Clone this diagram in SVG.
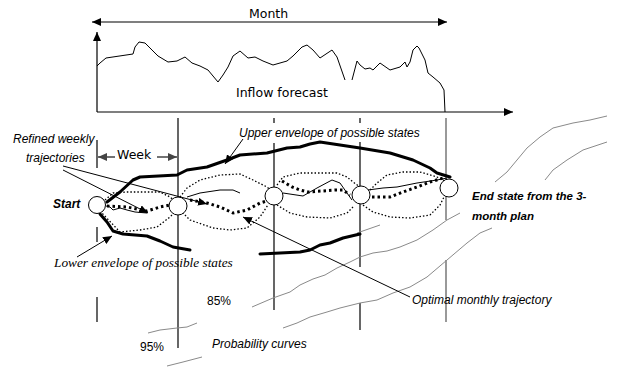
<svg xmlns="http://www.w3.org/2000/svg" width="617" height="371" viewBox="0 0 617 371">
<defs>
<marker id="ah" markerWidth="9" markerHeight="8" refX="9" refY="4" orient="auto-start-reverse" markerUnits="userSpaceOnUse">
<path d="M0,0 L9,4 L0,8 z" fill="#000"/>
</marker>
<marker id="ahg" markerWidth="9" markerHeight="8" refX="9" refY="4" orient="auto-start-reverse" markerUnits="userSpaceOnUse">
<path d="M0,0 L9,4 L0,8 z" fill="#444"/>
</marker>
</defs>
<style>
.ax{stroke:#000;stroke-width:1.2;fill:none}
.thin{stroke:#000;stroke-width:1;fill:none;stroke-linejoin:round}
.env{stroke:#000;stroke-width:3;fill:none;stroke-linejoin:round;stroke-linecap:round}
.dot{stroke:#000;stroke-width:1.3;fill:none;stroke-dasharray:1.5 2}
.opt{stroke:#000;stroke-width:3;fill:none;stroke-dasharray:2.5 3}
.prob{stroke:#8a8a8a;stroke-width:1;fill:none;stroke-linejoin:round}
.vl{stroke:#000;stroke-width:1.2}
.node{fill:#fff;stroke:#000;stroke-width:1}
.up{font-family:"DejaVu Sans",sans-serif;font-size:12.5px;fill:#000}
.it{font-family:"Liberation Sans",Arial,sans-serif;font-style:italic;font-size:12px;fill:#000}
.its{font-family:"Liberation Serif","Times New Roman",serif;font-style:italic;font-size:13.3px;fill:#000}
.bi{font-family:"Liberation Sans",Arial,sans-serif;font-style:italic;font-weight:bold;fill:#000}
.pc{font-family:"Liberation Sans",Arial,sans-serif;font-size:12px;fill:#000}
</style>
<rect width="617" height="371" fill="#fff"/>

<g id="axes">
<line class="ax" x1="92" y1="22" x2="447" y2="22" marker-start="url(#ah)" marker-end="url(#ah)"/>
<line class="ax" x1="97" y1="112" x2="97" y2="32" marker-end="url(#ah)"/>
<line class="ax" x1="97" y1="112" x2="513" y2="112" marker-end="url(#ah)"/>
<path class="thin" d="M97,66 L100,63 L106,58 L133,54 L135,47 L139,42 L145,43 L154,52 L158,56 L168,62 L177,61 L185,57 L192,63 L200,66 L208,70 L218,82 L223,75 L228,67 L233,56 L240,51 L248,58 L255,57 L263,61 L273,65 L287,61 L293,56 L302,47 L307,45 L313,50 L320,58 L332,50 L337,57 L345,80"/>
<path class="thin" d="M352,80 L357,61 L360,65 L365,69 L370,68 L373,70 L380,63 L390,70 L400,67 L405,62 L407,67 L410,62 L413,50 L417,46 L419,48 L425,60 L428,73 L433,77 L440,83 L444,90 L445,112"/>
<text class="up" x="249" y="18">Month</text>
<text class="up" x="236" y="97">Inflow forecast</text>
</g>

<g id="week-lines">
<line class="vl" x1="97" y1="140" x2="97" y2="168"/>
<line class="vl" x1="97" y1="227" x2="97" y2="242"/>
<line class="vl" x1="97" y1="297" x2="97" y2="322"/>
<line class="vl" x1="178" y1="118" x2="178" y2="348"/>
<line class="vl" x1="274" y1="118" x2="274" y2="123"/>
<line class="vl" x1="274" y1="143" x2="274" y2="310"/>
<line class="vl" x1="360" y1="118" x2="360" y2="123"/>
<line class="vl" x1="360" y1="142" x2="360" y2="267"/>
<line class="vl" x1="360" y1="303" x2="360" y2="330"/>
<line x1="446" y1="118" x2="446" y2="220" stroke="#555" stroke-width="1.2"/>
<line x1="446" y1="260" x2="446" y2="322" stroke="#777" stroke-width="1.5"/>
<line x1="115" y1="157" x2="98" y2="157" stroke="#444" stroke-width="1.5" marker-end="url(#ahg)"/>
<line x1="157" y1="157" x2="177" y2="157" stroke="#444" stroke-width="1.5" marker-end="url(#ahg)"/>
<text class="up" x="117" y="159">Week</text>
</g>

<g id="probability-curves">
<path class="prob" d="M495,182 L507,172 L517,160 L527,148 L540,137 L553,128 L573,123 L590,120 L607,116"/>
<path class="prob" d="M545,180 L553,170 L567,160 L583,150 L607,142"/>
<path class="prob" d="M252,307 L273,298 L290,292 L300,285 L313,279 L325,275 L337,268 L350,262 L360,257 L373,253 L387,251 L400,247 L417,240 L433,230 L447,220 L460,213"/>
<path class="prob" d="M283,328 L297,323 L310,317 L327,312 L340,308 L360,303 L377,300 L393,293 L410,287 L427,277 L447,260 L467,243 L480,233 L492,228"/>
<path class="prob" d="M148,333 L160,330 L177,328 L187,327 L197,323"/>
<path class="prob" d="M167,366 L183,362 L202,357"/>
<path class="prob" d="M357,233 L380,225"/>
<text class="pc" x="207" y="305">85%</text>
<text class="pc" x="140" y="351">95%</text>
<text class="it" x="212" y="348">Probability curves</text>
</g>

<g id="connectors">
<path class="env" d="M107,202 L120,192 L133,180 L140,177 L177,175 L187,170 L207,167 L227,160 L240,155 L267,153 L287,148 L300,147 L310,144 L320,142 L360,148 L390,153 L413,160 L430,168 L437,173 L450,177"/>
<path class="env" d="M100,214 L107,222 L113,231 L123,234 L147,236 L160,241 L173,247 L190,250"/>
<path class="env" d="M260,254 L280,253 L300,252 L310,250 L320,245 L330,243 L343,238 L360,234"/>
<path class="dot" d="M105,200 L113,193 L127,192 L160,192 L170,197 L177,203"/>
<path class="dot" d="M100,211 L120,232 L140,230 L157,227 L170,217 L177,210"/>
<path class="thin" d="M106,206 L110,207 L113,210 L120,208 L127,210 L135,212 L147,213"/>
<path class="opt" d="M107,206 L127,207 L147,211 L160,207 L170,205"/>
<path class="dot" d="M180,197 L187,188 L200,180 L220,175 L240,174 L253,180 L267,187 L273,192"/>
<path class="dot" d="M180,210 L190,220 L213,228 L230,230 L247,228 L260,217 L268,205"/>
<path class="thin" d="M187,197 L200,193 L220,190 L233,190 L240,193"/>
<path class="opt" d="M190,200 L207,203 L220,207 L233,213 L247,210 L260,203 L270,200"/>
<path class="dot" d="M277,185 L283,177 L300,173 L337,173 L347,177 L353,182 L360,187"/>
<path class="dot" d="M277,205 L290,213 L307,217 L330,218 L347,213 L353,207"/>
<path class="thin" d="M283,193 L303,196 L317,188 L332,180 L340,183 L347,193 L352,200"/>
<path class="opt" d="M282,181 L292,187 L300,190 L308,192 L322,191 L335,190 L343,190 L350,195"/>
<path class="dot" d="M370,190 L377,183 L387,175 L403,172 L420,172 L437,177 L447,182"/>
<path class="dot" d="M363,205 L373,212 L390,217 L410,218 L430,215 L440,205 L445,195"/>
<path class="thin" d="M368,190 L383,188 L397,187 L417,183 L437,180 L447,178"/>
<path class="opt" d="M372,197 L390,197 L403,192 L417,187 L430,182 L443,178"/>
<line class="thin" x1="243" y1="139" x2="225" y2="164" marker-end="url(#ah)"/>
<line class="thin" x1="77" y1="257" x2="112" y2="236" marker-end="url(#ah)"/>
<line class="thin" x1="410" y1="297" x2="243" y2="217" marker-end="url(#ah)"/>
<line class="thin" x1="63" y1="166" x2="207" y2="204" marker-end="url(#ah)"/>
<line class="thin" x1="63" y1="170" x2="148" y2="213" marker-end="url(#ah)"/>
</g>

<g id="node-start"><circle class="node" cx="97" cy="205" r="8.5"/><text class="bi" font-size="12" x="53" y="208">Start</text></g>
<g id="node-week1"><circle class="node" cx="178" cy="206" r="9"/></g>
<g id="node-week2"><circle class="node" cx="274" cy="196" r="9"/></g>
<g id="node-week3"><circle class="node" cx="361" cy="195" r="9"/></g>
<g id="node-end"><circle class="node" cx="449" cy="188" r="9"/>
<text class="bi" font-size="11.5" x="472" y="200">End state from the 3-</text>
<text class="bi" font-size="11.5" x="472" y="220">month plan</text></g>

<g id="labels">
<text class="it" x="239" y="137">Upper envelope of possible states</text>
<text class="it" x="13" y="143">Refined weekly</text>
<text class="it" x="26" y="162">trajectories</text>
<text class="its" x="54" y="267">Lower envelope of possible states</text>
<text class="it" x="412" y="304">Optimal monthly trajectory</text>
</g>
</svg>
